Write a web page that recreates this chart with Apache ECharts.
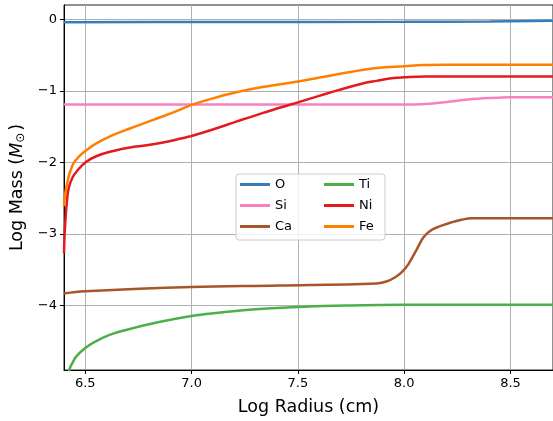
<!DOCTYPE html>
<html>
<head>
<meta charset="utf-8">
<script src="https://cdn.jsdelivr.net/npm/echarts@6/dist/echarts.min.js"></script>
<style>
  html, body { margin: 0; padding: 0; background: #fff; }
  #chart { width: 553px; height: 421px; }
</style>
</head>
<body>
<div id="chart"></div>
<script>
// Cumulative element mass profiles: [log radius (cm), log mass (Msun)]
const massO  = [[6.40,-0.04],[7.00,-0.038],[8.00,-0.035],[8.40,-0.03],[8.70,-0.02]];
const massSi = [[6.40,-1.19],[8.05,-1.19],[8.12,-1.18],[8.20,-1.155],[8.30,-1.12],[8.40,-1.10],[8.50,-1.09],[8.70,-1.09]];
const massCa = [[6.40,-3.83],[6.50,-3.80],[7.00,-3.74],[7.41,-3.72],[7.87,-3.69],[7.92,-3.66],[7.96,-3.60],[7.99,-3.53],
                [8.02,-3.42],[8.06,-3.21],[8.09,-3.05],[8.12,-2.96],[8.16,-2.90],[8.22,-2.84],[8.27,-2.80],[8.32,-2.78],[8.70,-2.78]];
const massTi = [[6.418,-5.00],[6.427,-4.88],[6.44,-4.80],[6.458,-4.71],[6.497,-4.60],[6.536,-4.52],[6.614,-4.41],[6.692,-4.34],
                [6.847,-4.23],[7.00,-4.145],[7.128,-4.10],[7.30,-4.05],[7.50,-4.02],[7.73,-4.00],[8.00,-3.99],[8.70,-3.99]];
const massNi = [[6.40,-3.27],[6.403,-3.00],[6.407,-2.80],[6.412,-2.60],[6.422,-2.36],[6.44,-2.21],[6.461,-2.12],[6.50,-2.00],
                [6.554,-1.91],[6.632,-1.84],[6.71,-1.79],[6.788,-1.76],[6.866,-1.72],[6.944,-1.67],[7.00,-1.63],[7.10,-1.54],
                [7.21,-1.43],[7.333,-1.31],[7.41,-1.24],[7.50,-1.16],[7.60,-1.07],[7.69,-0.99],[7.80,-0.90],[7.87,-0.86],
                [7.95,-0.82],[8.00,-0.81],[8.10,-0.80],[8.70,-0.80]];
const massFe = [[6.40,-2.61],[6.405,-2.45],[6.41,-2.36],[6.42,-2.22],[6.43,-2.12],[6.445,-2.01],[6.47,-1.92],[6.50,-1.84],
                [6.554,-1.73],[6.632,-1.615],[6.71,-1.525],[6.788,-1.44],[6.866,-1.355],[6.944,-1.265],[7.00,-1.195],[7.10,-1.105],
                [7.21,-1.02],[7.333,-0.946],[7.50,-0.87],[7.70,-0.76],[7.87,-0.68],[8.00,-0.655],[8.10,-0.64],[8.20,-0.635],[8.70,-0.635]];

const xTicks = [6.5, 7.0, 7.5, 8.0, 8.5];
const yTicks = [-4, -3, -2, -1, 0];

const elements = [
  { name: 'O',  data: massO,  color: '#377eb8' },
  { name: 'Si', data: massSi, color: '#f781bf' },
  { name: 'Ca', data: massCa, color: '#a65628' },
  { name: 'Ti', data: massTi, color: '#4daf4a' },
  { name: 'Ni', data: massNi, color: '#e41a1c' },
  { name: 'Fe', data: massFe, color: '#ff7f00' }
];

const FONT = 'DejaVu Sans';
const chart = echarts.init(document.getElementById('chart'), null, { renderer: 'canvas' });

function legendColumn(names, left) {
  return {
    orient: 'vertical',
    left: left,
    top: 174,
    itemWidth: 30,
    itemHeight: 3,
    itemGap: 0,
    padding: 0,
    icon: 'rect',
    z: 10,
    selectedMode: false,
    data: names,
    textStyle: { fontFamily: FONT, fontSize: 13, color: '#000', lineHeight: 21, padding: [0, 0, 0, 0] }
  };
}

chart.setOption({
  animation: false,
  backgroundColor: '#fff',
  grid: { left: 64, top: 5, width: 492, height: 366, show: true, borderColor: '#222', borderWidth: 1, containLabel: false },
  xAxis: {
    type: 'value', min: 6.4, max: 8.7,
    name: 'Log Radius (cm)', nameLocation: 'middle', nameGap: 28,
    nameTextStyle: { fontFamily: FONT, fontSize: 17.5, color: '#000' },
    axisLine: { onZero: false, lineStyle: { color: '#000', width: 1 } },
    axisTick: { show: true, inside: false, length: 4, customValues: xTicks, lineStyle: { color: '#000' } },
    axisLabel: { customValues: xTicks, fontFamily: FONT, fontSize: 13, color: '#000', margin: 7,
                 formatter: v => v.toFixed(1) },
    splitLine: { show: true, lineStyle: { color: '#b0b0b0', width: 1 } }
  },
  yAxis: {
    type: 'value', min: -4.9, max: 0.2,
    name: '{t|Log Mass (}{m|M}{s|⊙}{t|)}', nameLocation: 'middle', nameGap: 36, nameRotate: 90,
    nameTextStyle: {
      fontFamily: FONT, fontSize: 17.5, color: '#000',
      rich: {
        t: { fontFamily: FONT, fontSize: 17.5, color: '#000' },
        m: { fontFamily: FONT, fontSize: 17.5, fontStyle: 'italic', color: '#000' },
        s: { fontFamily: FONT, fontSize: 12, color: '#000', verticalAlign: 'bottom', padding: [0, 2, 0, 0] }
      }
    },
    axisLine: { onZero: false, lineStyle: { color: '#000', width: 1 } },
    axisTick: { show: true, inside: false, length: 4, customValues: yTicks, lineStyle: { color: '#000' } },
    axisLabel: { customValues: yTicks, fontFamily: FONT, fontSize: 13, color: '#000', margin: 7,
                 formatter: v => (v < 0 ? '\u2212' + Math.abs(v) : String(v)) },
    splitLine: { show: true, lineStyle: { color: '#b0b0b0', width: 1 } }
  },
  legend: [ legendColumn(['O', 'Si', 'Ca'], 240), legendColumn(['Ti', 'Ni', 'Fe'], 324) ],
  graphic: [{
    type: 'rect', z: 9, silent: true,
    shape: { x: 236, y: 174, width: 149, height: 66, r: 3 },
    style: { fill: 'rgba(255,255,255,0.8)', stroke: '#cccccc', lineWidth: 1 }
  }],
  series: elements.map((e, i) => ({
    name: e.name, type: 'line', data: e.data,
    smooth: 0.4, showSymbol: false, symbol: 'none',
    clip: true, z: 2 + i,
    color: e.color,
    lineStyle: { color: e.color, width: 2.5 }
  }))
});
</script>
</body>
</html>
